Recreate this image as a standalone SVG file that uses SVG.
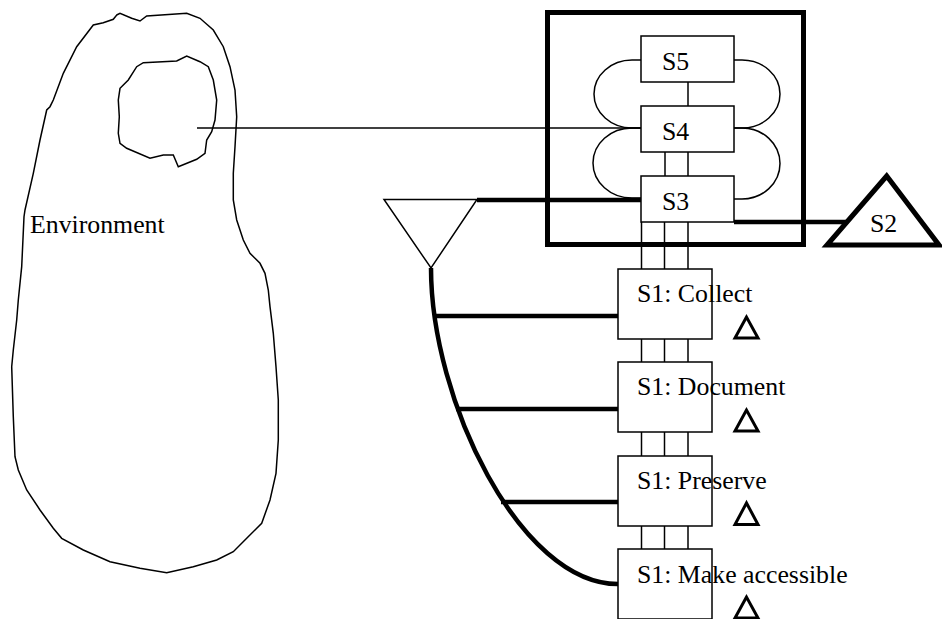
<svg xmlns="http://www.w3.org/2000/svg" width="942" height="619" viewBox="0 0 942 619">
<style>
.thin{fill:none;stroke:#000;stroke-width:1.5}
.thick{fill:none;stroke:#000;stroke-width:4.5}
.box{fill:#fff;stroke:#000;stroke-width:1.5}
.tri{fill:#fff;stroke:#000;stroke-width:3}
.lbl{font-family:'Liberation Serif','DejaVu Serif',serif;font-size:25.8px;fill:#000}
</style>
<rect width="942" height="619" fill="#fff"/>
<g id="environment">
<path class="thin" d="M116.7,15 L120,13.3 L131.7,18.3 L140,21 L146.7,16 L186.7,13.3 L200,18.3 L213.3,30 L223.3,46.7 L230,66.7 L235,90 L236.7,116.7 L235,146.7 L233.3,173.3 L233.3,200 L236.7,220 L243.3,240 L250,253.3 L260,263.3 L265,273.3 L268.3,290 L270,306.7 L273.3,333.3 L276,366.7 L278.3,400 L278.3,440 L276,473.3 L270,500 L261.7,523.3 L246.7,538.3 L233.3,551.7 L216.7,560 L193.3,566.7 L166.7,572.7 L140,568.3 L110,561.7 L83.3,550 L61.7,538.3 L53.3,528.3 L40,510 L26.7,490 L18.3,470 L15,456.7 L13.3,416.7 L11.7,366.7 L13.3,350 L16.7,320 L18.3,300 L21.7,266.7 L24,216.7 L25,210 L33.3,173.3 L40,140 L46.7,110 L50,106.7 L53.3,100 L63.3,73.3 L76.7,46.7 L93.3,25 L103.3,22.7 L113.3,19.3 Z"/>
<path class="thin" d="M143.3,62.7 L176.7,61 L186.7,56 L200,61.7 L208.3,66.7 L213.3,80 L216.7,100 L215,120 L211.7,131.7 L206.7,140 L205,153.3 L196.7,159.3 L178.3,166.7 L173.3,155 L163.3,155 L150,158.3 L126.7,148.3 L120,143.3 L118.3,133.3 L119.3,116.7 L118.3,100 L120,88.3 L128.3,80 L136.7,66.7 Z"/>
<text class="lbl" x="30" y="233">Environment</text>
</g>
<g id="connectors">
<rect class="thick" x="547.5" y="12.5" width="256" height="232" style="stroke-width:5"/>
<line class="thin" x1="197" y1="128" x2="641" y2="128"/>
<path class="thin" d="M641,60 L632,60 A38,34 0 0 0 632,128 L641,128"/>
<path class="thin" d="M641,128 L632,128 A39,35 0 0 0 632,198 L641,198"/>
<path class="thin" d="M734,60 L742,60 A38,34 0 0 1 742,128 L734,128"/>
<path class="thin" d="M734,128 L742,128 A38,35.5 0 0 1 742,199 L734,199"/>
<line class="thin" x1="688" y1="82" x2="688" y2="106"/>
<line class="thin" x1="665" y1="152" x2="665" y2="176"/>
<line class="thin" x1="688" y1="152" x2="688" y2="176"/>
<g class="thin">
<line x1="641.5" y1="222" x2="641.5" y2="269"/><line x1="664.5" y1="222" x2="664.5" y2="269"/><line x1="688" y1="222" x2="688" y2="269"/>
<line x1="641.5" y1="339" x2="641.5" y2="362"/><line x1="664.5" y1="339" x2="664.5" y2="362"/><line x1="688" y1="339" x2="688" y2="362"/>
<line x1="641.5" y1="432" x2="641.5" y2="456"/><line x1="664.5" y1="432" x2="664.5" y2="456"/><line x1="688" y1="432" x2="688" y2="456"/>
<line x1="641.5" y1="526" x2="641.5" y2="549"/><line x1="664.5" y1="526" x2="664.5" y2="549"/><line x1="688" y1="526" x2="688" y2="549"/>
</g>
<line class="thick" x1="477" y1="200" x2="641" y2="200"/>
<line class="thick" x1="734" y1="222" x2="846" y2="222"/>
<path class="thick" d="M431,268 C431,400 520,584 618,584"/>
<line class="thick" x1="433" y1="316" x2="618" y2="316"/>
<line class="thick" x1="456" y1="409" x2="618" y2="409"/>
<line class="thick" x1="501" y1="502" x2="618" y2="502"/>
</g>
<g id="s5"><rect class="box" x="641" y="36" width="93" height="46"/><text class="lbl" x="662" y="70">S5</text></g>
<g id="s4"><rect class="box" x="641" y="106" width="93" height="46"/><text class="lbl" x="662" y="140">S4</text></g>
<g id="s3"><rect class="box" x="641" y="176" width="93" height="46"/><text class="lbl" x="662" y="210">S3</text></g>
<g id="algedonic"><path class="thin" d="M384,199.5 L477,199.5 L431,268 Z" style="fill:#fff"/></g>
<g id="s2"><path d="M886.7,176 L827,245 L939,245 Z" fill="#fff" stroke="#000" stroke-width="5" stroke-linejoin="miter"/><text class="lbl" x="870" y="232">S2</text></g>
<g id="s1-collect"><rect class="box" x="618" y="269" width="94" height="70"/><text class="lbl" x="637" y="302">S1: Collect</text><path class="tri" d="M746.5,317 L735,338 L758,338 Z"/></g>
<g id="s1-document"><rect class="box" x="618" y="362" width="94" height="70"/><text class="lbl" x="637" y="395">S1: Document</text><path class="tri" d="M746.5,410 L735,431 L758,431 Z"/></g>
<g id="s1-preserve"><rect class="box" x="618" y="456" width="94" height="70"/><text class="lbl" x="637" y="489">S1: Preserve</text><path class="tri" d="M746.5,503 L735,524.5 L758,524.5 Z"/></g>
<g id="s1-access"><rect class="box" x="618" y="549" width="94" height="70"/><text class="lbl" x="637" y="583">S1: Make accessible</text><path class="tri" d="M746.5,597 L735,618 L758,618 Z"/></g>
</svg>
